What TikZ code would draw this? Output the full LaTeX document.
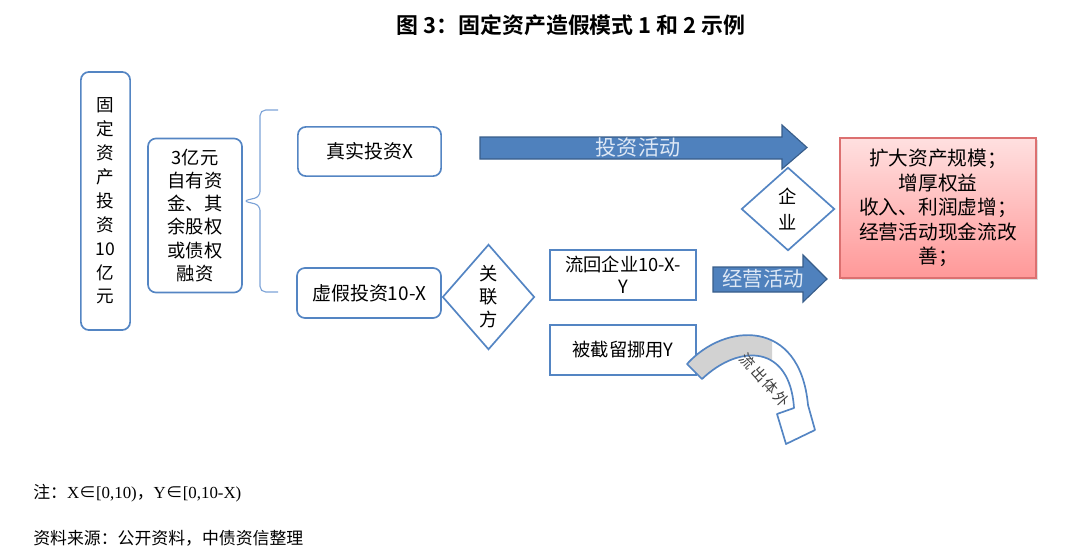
\documentclass[tikz,border=0pt]{standalone}
\usepackage{fontspec}
\setmainfont{Noto Sans CJK SC}[BoldFont={Noto Sans CJK SC Bold}]
\newfontfamily\timesfont{Liberation Serif}
\usepackage{xcolor}
\usetikzlibrary{positioning,shapes.geometric,shadows}

\definecolor{boxblue}{RGB}{84,133,195}
\definecolor{arrowblue}{RGB}{79,129,189}
\definecolor{arrowedge}{RGB}{56,93,138}
\definecolor{arrowtext}{RGB}{222,232,245}
\definecolor{pinktop}{RGB}{255,224,224}
\definecolor{pinkbot}{RGB}{255,152,152}
\definecolor{pinkedge}{RGB}{220,112,112}
\definecolor{bracecol}{RGB}{125,163,215}

\begin{document}
\begin{tikzpicture}[x=0.025cm, y=-0.025cm,
        rbox/.style={rectangle, rounded corners=0.2cm, draw=boxblue, line width=1.2pt, align=center, inner sep=0pt},
        sbox/.style={rectangle, draw=boxblue, line width=1.2pt, align=center, inner sep=0pt, minimum width=3.65cm, minimum height=1.25cm, font=\fontsize{13}{15.6}\selectfont},
        dia/.style={diamond, draw=boxblue, line width=1.2pt, align=center, inner sep=0pt},
        bigarrow/.style={fill=arrowblue, draw=arrowedge, line width=0.8pt},
        arrowlabel/.style={text=arrowtext, font=\fontsize{15}{15}\selectfont},
        note/.style={anchor=west, inner sep=0pt, font=\fontsize{12}{14}\selectfont}
    ]
    \useasboundingbox (0,0) rectangle (1080,552);

    % Title
    \node[font=\fontsize{15.6}{16}\selectfont\bfseries] (title) at (571,25) {图 3：固定资产造假模式 1 和 2 示例};

    % Left boxes
    \node[rbox, minimum width=1.23cm, minimum height=6.45cm, font=\fontsize{12.5}{17}\selectfont] (fixed) at (105.5,201) {固\\定\\资\\产\\投\\资\\10\\亿\\元};
    \node[rbox, minimum width=2.35cm, minimum height=3.85cm, font=\fontsize{13}{16.4}\selectfont] (own) at (195,215.5) {3亿元\\自有资\\金、其\\余股权\\或债权\\融资};

    % Brace
    \draw[bracecol, line width=0.8pt, rounded corners=4pt] (278,110) -- (260,110) -- (260,197) -- (243,201) -- (260,205) -- (260,292) -- (278,292);

    % Real and fake investment
    \node[rbox, minimum width=3.58cm, minimum height=1.23cm, font=\fontsize{13.5}{15}\selectfont] (real) at (369.5,151.5) {真实投资X};
    \node[rbox, minimum width=3.6cm, minimum height=1.25cm, font=\fontsize{13.5}{15}\selectfont] (fake) at (369,293) {虚假投资10-X};
    \node[dia, minimum width=2.3cm, minimum height=2.63cm, font=\fontsize{13}{16.4}\selectfont] (related) at (488.5,297) {关\\联\\方};

    % Outcome of the fake part
    \node[sbox] (back) at (623,275) {流回企业10-X-\\Y};
    \node[sbox] (kept) at (623,350) {被截留挪用Y};

    % Block arrows
    \draw[bigarrow] (480,137) -- (782,137) -- (782,125) -- (807,147.5) -- (782,169) -- (782,159) -- (480,159) -- cycle;
    \node[arrowlabel] (invest) at (638,148) {投资活动};
    \draw[bigarrow] (713,267) -- (803,267) -- (803,255) -- (827,279) -- (803,302) -- (803,292) -- (713,292) -- cycle;
    \node[arrowlabel, font=\fontsize{14.5}{15}\selectfont] (operate) at (763,279) {经营活动};

    \node[dia, minimum width=2.33cm, minimum height=2.08cm, font=\fontsize{13}{18.5}\selectfont] (firm) at (788,209) {企\\业};

    % Result
    \node[rectangle, draw=pinkedge, line width=0.8pt, top color=pinktop, bottom color=pinkbot,
          drop shadow={opacity=0.25, shadow xshift=0.06cm, shadow yshift=-0.06cm},
          minimum width=4.9cm, minimum height=3.5cm, align=center, inner sep=0pt,
          font=\fontsize{14}{17.4}\selectfont] (result) at (938,208)
          {扩大资产规模；\\增厚权益\\收入、利润虚增；\\经营活动现金流改\\善；};

    % Curved arrow out of the firm
    \begin{scope}
        \clip (680,320) rectangle (772,400);
        \fill[gray!35] (687,364) .. controls (725,322) and (800,318) .. (808,405) -- (794,408) .. controls (790,345) and (740,343) .. (702,379) -- cycle;
    \end{scope}
    \draw[boxblue, line width=1.2pt, line join=round] (687,364) .. controls (725,322) and (800,318) .. (808,405) -- (815,430) -- (786,444) -- (777,414) -- (794,408) .. controls (790,345) and (740,343) .. (702,379) -- cycle;
    \node[text=black!75, font=\fontsize{10.5}{11}\selectfont, inner sep=0pt, rotate=-48] (outflow) at (765,380) {流\kern1.5pt 出\kern1.5pt 体\kern1.5pt 外};

    % Notes
    \node[note] (remark) at (33,493) {注：{\timesfont X}∈{\timesfont [0,10)}，{\timesfont Y}∈{\timesfont [0,10-X)}};
    \node[note] (source) at (33,538) {资料来源：公开资料，中债资信整理};
\end{tikzpicture}
\end{document}
